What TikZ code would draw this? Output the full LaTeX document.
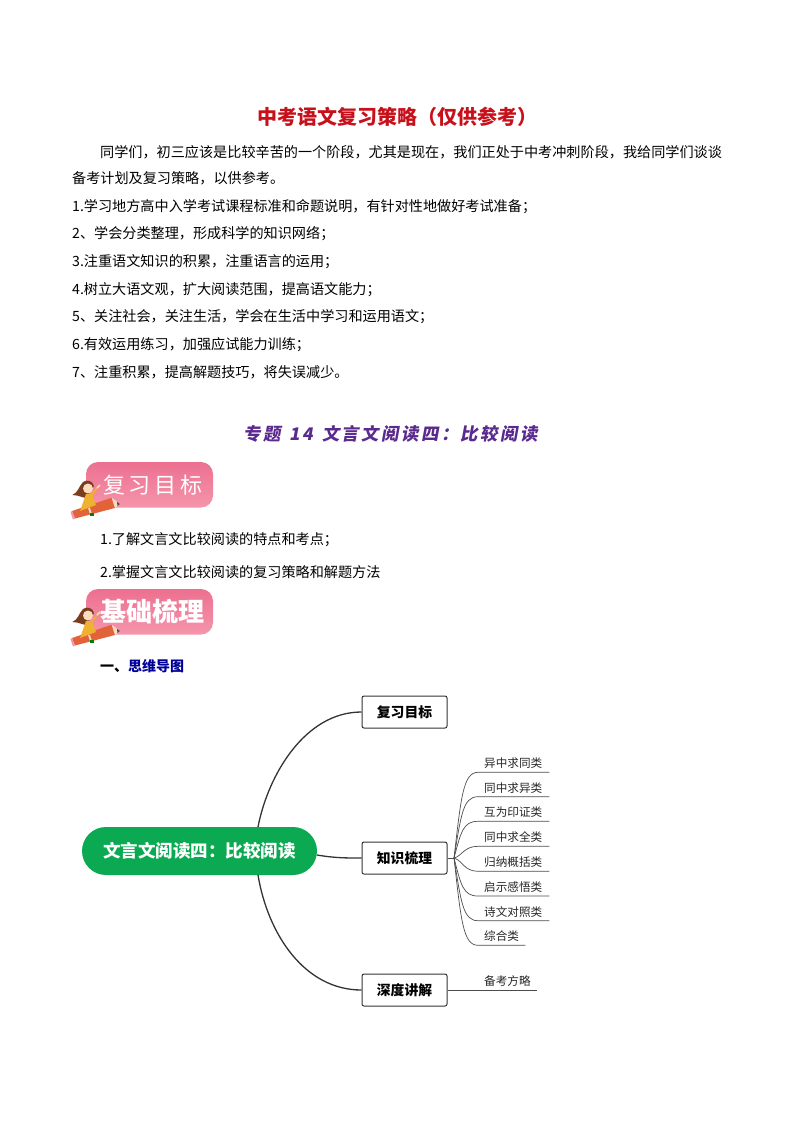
\documentclass[tikz,border=0pt]{standalone}
\usepackage{fontspec}
\usepackage{xcolor}
\setmainfont{Noto Sans CJK SC}
\newfontfamily\cjkwide[LetterSpace=18]{Noto Sans CJK SC}
\newfontfamily\cjkslant[FakeSlant=0.18,LetterSpace=14,WordSpace=1.4]{Noto Sans CJK SC}
\usetikzlibrary{arrows.meta,positioning,calc}
\definecolor{titlered}{HTML}{C8101A}
\definecolor{titlepurple}{HTML}{5A2A8E}
\definecolor{rootgreen}{HTML}{0BAA52}
\definecolor{linedark}{HTML}{333333}
\definecolor{hairbrown}{HTML}{7A3D1E}
\definecolor{badgetop}{HTML}{EC7090}
\definecolor{badgelow}{HTML}{F595AC}
\definecolor{pencilred}{HTML}{E2623A}
\definecolor{dressyellow}{HTML}{F0B030}
\definecolor{skintone}{HTML}{FBDCBE}

\begin{document}
\begin{tikzpicture}[x=1pt,y=-1pt,
    bodyline/.style={anchor=west, inner sep=0, font=\fontsize{14.13}{16}\selectfont},
    badgetext/.style={inner sep=0, text=white},
    rootbox/.style={fill=rootgreen, rounded corners=24pt, minimum width=235pt, minimum height=48pt, inner sep=0, text=white, font=\bfseries\fontsize{17.5}{20}\selectfont},
    topicbox/.style={draw=linedark, line width=1pt, rounded corners=2pt, fill=white, minimum width=85pt, minimum height=32pt, inner sep=0, font=\bfseries\fontsize{13.8}{16}\selectfont},
    leafbox/.style={anchor=south west, inner xsep=6pt, inner ysep=3.5pt, align=left, font=\fontsize{11.6}{13}\selectfont, text=black!85},
    mainlink/.style={draw=linedark, line width=1.3pt},
    leaflink/.style={draw=black!70, line width=0.7pt},
    badge/.pic={
        \shade[top color=badgetop, bottom color=badgelow, rounded corners=12pt] (0,0) rectangle (127,45.5);
        % Pencil
        \fill[pencilred] (-14,49) -- (25.7,35.7) -- (29,46) -- (-11,56.5) -- cycle;
        \fill[skintone] (25.7,35.7) -- (34,42) -- (29,46) -- cycle;
        \fill[black!70] (31,39.8) -- (34,42) -- (31.5,44) -- cycle;
        \fill[badgelow] (-15.5,50) -- (-14,49) -- (-11,56.5) -- (-13,57.5) -- cycle;
        % Girl
        \fill[hairbrown] (-13.7,33) .. controls (-8,31) and (-7,24) .. (-3,20) .. controls (1,17) and (7,19) .. (8,24) -- (4,30) -- (0,36) -- (-4,35) .. controls (-7,33) and (-10,34) .. cycle;
        \fill[skintone] (2,26.5) circle (5);
        \draw[dressyellow, line width=2pt] (4,35) -- (11,26);
        \draw[skintone, line width=1.6pt] (11,26) -- (14,23);
        \fill[dressyellow] (0,32) -- (6,32) -- (10,43) -- (-6,49) -- cycle;
        \draw[skintone, line width=1.8pt] (3,46) -- (5,52);
        \fill[green!50!black] (3.5,51) rectangle (7.5,54);
    },
]
    \useasboundingbox (0,0) rectangle (794,1123);

    % Page title
    \node[anchor=west, text=titlered, font=\bfseries\fontsize{20}{22}\selectfont, inner sep=0] (pagetitle) at (257,117) {中考语文复习策略（仅供参考）};

    % Opening paragraph
    \node[bodyline] (introa) at (100,152) {同学们，初三应该是比较辛苦的一个阶段，尤其是现在，我们正处于中考冲刺阶段，我给同学们谈谈};
    \node[bodyline] (introb) at (72,178) {备考计划及复习策略，以供参考。};

    % Numbered advice
    \node[bodyline] (tipa) at (72,206.5) {1.学习地方高中入学考试课程标准和命题说明，有针对性地做好考试准备；};
    \node[bodyline] (tipb) at (72,234) {2、学会分类整理，形成科学的知识网络；};
    \node[bodyline] (tipc) at (72,262) {3.注重语文知识的积累，注重语言的运用；};
    \node[bodyline] (tipd) at (72,289.5) {4.树立大语文观，扩大阅读范围，提高语文能力；};
    \node[bodyline] (tipe) at (72,317) {5、关注社会，关注生活，学会在生活中学习和运用语文；};
    \node[bodyline] (tipf) at (72,345) {6.有效运用练习，加强应试能力训练；};
    \node[bodyline] (tipg) at (72,372) {7、注重积累，提高解题技巧，将失误减少。};

    % Section title
    \node[anchor=west, text=titlepurple, font=\cjkslant\bfseries\fontsize{17.4}{20}\selectfont, inner sep=0] (sectitle) at (243,434) {专题 14 文言文阅读四：比较阅读};

    % First badge and goals
    \pic at (86,462) {badge};
    \node[badgetext, font=\cjkwide\fontsize{22}{24}\selectfont] (goalbadge) at (153,485) {复习目标};
    \node[bodyline] (goala) at (100,540) {1.了解文言文比较阅读的特点和考点；};
    \node[bodyline] (goalb) at (100,572) {2.掌握文言文比较阅读的复习策略和解题方法};

    % Second badge and heading
    \pic at (86,589) {badge};
    \node[badgetext, font=\bfseries\fontsize{26}{28}\selectfont] (basebadge) at (152,612) {基础梳理};
    \node[bodyline, font=\bfseries\fontsize{14}{16}\selectfont] (mapheading) at (100,666) {一、\textcolor{blue!60!black}{思维导图}};

    % Mind map nodes
    \node[rootbox] (root) at (199.5,851) {文言文阅读四：比较阅读};
    \node[topicbox] (goals) at (404.5,712) {复习目标};
    \node[topicbox] (review) at (404.5,858) {知识梳理};
    \node[topicbox] (explain) at (404.5,990) {深度讲解};

    % Main branches
    \coordinate (rootup) at (258,827);
    \coordinate (rootright) at (317,855);
    \coordinate (rootdown) at (258,875);
    \draw[mainlink] (rootup) .. controls (268,775) and (305,712) .. (goals.west);
    \draw[mainlink] (rootright) .. controls (335,858) and (345,858) .. (review.west);
    \draw[mainlink] (rootdown) .. controls (268,935) and (305,990) .. (explain.west);

    % Leaves of the review box
    \coordinate (fork) at (454,858);
    \draw[leaflink] (review.east) -- (fork);

    \node[leafbox, text width=59pt] (leafa) at (478,772.3) {异中求同类};
    \draw[leaflink] (fork) .. controls (461,798) and (463,772.3) .. (leafa.south west) -- (leafa.south east);

    \node[leafbox, text width=59pt] (leafb) at (478,796.7) {同中求异类};
    \draw[leaflink] (fork) .. controls (461,815) and (463,796.7) .. (leafb.south west) -- (leafb.south east);

    \node[leafbox, text width=59pt] (leafc) at (478,821.3) {互为印证类};
    \draw[leaflink] (fork) .. controls (461,832) and (463,821.3) .. (leafc.south west) -- (leafc.south east);

    \node[leafbox, text width=59pt] (leafd) at (478,846.3) {同中求全类};
    \draw[leaflink] (fork) .. controls (462,856) and (464,846.3) .. (leafd.south west) -- (leafd.south east);

    \node[leafbox, text width=59pt] (leafe) at (478,871.3) {归纳概括类};
    \draw[leaflink] (fork) .. controls (462,860) and (464,871.3) .. (leafe.south west) -- (leafe.south east);

    \node[leafbox, text width=59pt] (leaff) at (478,896) {启示感悟类};
    \draw[leaflink] (fork) .. controls (461,885) and (463,896) .. (leaff.south west) -- (leaff.south east);

    \node[leafbox, text width=59pt] (leafg) at (478,920.7) {诗文对照类};
    \draw[leaflink] (fork) .. controls (461,902) and (463,920.7) .. (leafg.south west) -- (leafg.south east);

    \node[leafbox, text width=35pt] (leafh) at (478,945.3) {综合类};
    \draw[leaflink] (fork) .. controls (461,920) and (463,945.3) .. (leafh.south west) -- (leafh.south east);

    % Leaf of the last box
    \node[leafbox, text width=47pt] (leafi) at (478,990) {备考方略};
    \draw[leaflink] (explain.east) -- (leafi.south east);
\end{tikzpicture}
\end{document}
